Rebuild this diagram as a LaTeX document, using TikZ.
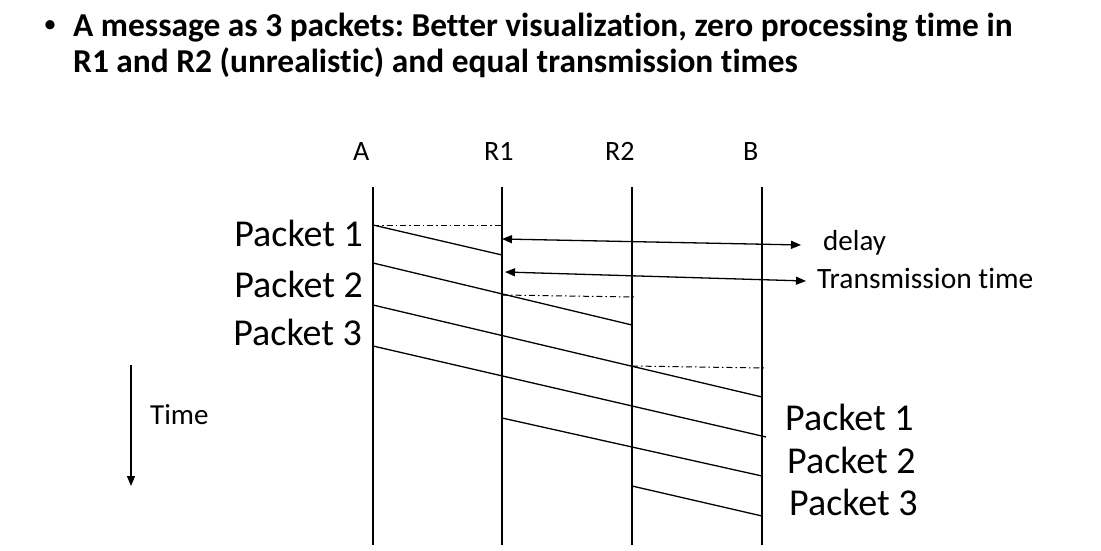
\documentclass[tikz,border=0pt]{standalone}
\usepackage{fontspec}
\setmainfont{Carlito}[Ligatures=NoCommon]
\usetikzlibrary{arrows.meta}
\newcommand{\fs}[1]{\fontsize{#1}{#1}\selectfont}
\frenchspacing
\begin{document}
\begin{tikzpicture}[x=1pt,y=-1pt,
	life/.style={line width=1.3pt},
	pkt/.style={line width=1.3pt},
	ddot/.style={line width=1pt, dash pattern=on 6pt off 3pt on 1.5pt off 3pt},
	both/.style={line width=1.3pt, {Triangle[length=10pt,width=8pt]}-{Triangle[length=10pt,width=8pt]}},
	txt/.style={inner sep=0pt, anchor=base west}]
	\useasboundingbox (0,0) rectangle (1101,551);
	% heading
	\node [txt, anchor=center] (dot) at (50,27) {\fs{26}\textbullet};
	\node [txt] (head1) at (73,37) {\fs{33.4}\bfseries A message as 3 packets: Better visualization, zero processing time in};
	\node [txt] (head2) at (73,73) {\fs{33.4}\bfseries R1 and R2 (unrealistic) and equal transmission times};
	% stations
	\node [txt] (nameA) at (353,160) {\fs{28}A};
	\node [txt] (nameR1) at (484,160) {\fs{28}R1};
	\node [txt] (nameR2) at (605,160) {\fs{28}R2};
	\node [txt] (nameB) at (743,160) {\fs{28}B};
	\foreach \n/\x in {A/373,R1/502,R2/632,B/762} {
		\coordinate (\n top) at (\x,187);
		\coordinate (\n bot) at (\x,545);
		\draw [life] (\n top) -- (\n bot);
	}
	% packets on the links
	\draw [pkt] (373,225) coordinate (p1s) -- (502,255) coordinate (p1e);
	\draw [pkt] (373,263) coordinate (p2s) -- (632,325) coordinate (p2e);
	\draw [pkt] (373,305) coordinate (p3s) -- (762,397) coordinate (p3e);
	\draw [pkt] (373,346) coordinate (p4s) -- (766,437) coordinate (p4e);
	\draw [pkt] (502,418) coordinate (p5s) -- (762,476) coordinate (p5e);
	\draw [pkt] (632,486) coordinate (p6s) -- (762,516) coordinate (p6e);
	% dash-dot marks
	\draw [ddot] (p1s) -- (502,225) coordinate (m1);
	\draw [ddot] (502,295) coordinate (m2s) -- (634,297) coordinate (m2e);
	\draw [ddot] (632,366) coordinate (m3s) -- (764,368) coordinate (m3e);
	% arrows to labels
	\node [txt] (delay) at (823,250) {\fs{29}delay};
	\node [txt] (trans) at (817,288) {\fs{29.5}Transmission time};
	\coordinate (d1) at (502,239);
	\coordinate (d2) at (801,245);
	\coordinate (t1) at (505,272);
	\coordinate (t2) at (806,281);
	\draw [both] (d1) -- (d2);
	\draw [both] (t1) -- (t2);
	% packet names
	\node [txt, anchor=base east] (left1) at (363,246) {\fs{38}Packet 1};
	\node [txt, anchor=base east] (left2) at (363,297) {\fs{38}Packet 2};
	\node [txt, anchor=base east] (left3) at (362,345) {\fs{38}Packet 3};
	\node [txt] (right1) at (785,430) {\fs{38}Packet 1};
	\node [txt] (right2) at (787,473) {\fs{38}Packet 2};
	\node [txt] (right3) at (789,515) {\fs{38}Packet 3};
	% time axis
	\coordinate (time top) at (131,365);
	\coordinate (time end) at (131,486);
	\draw [line width=1.3pt, -{Triangle[length=10pt,width=8pt]}] (time top) -- (time end);
	\node [txt] (time) at (150,424) {\fs{29}Time};
\end{tikzpicture}
\end{document}
